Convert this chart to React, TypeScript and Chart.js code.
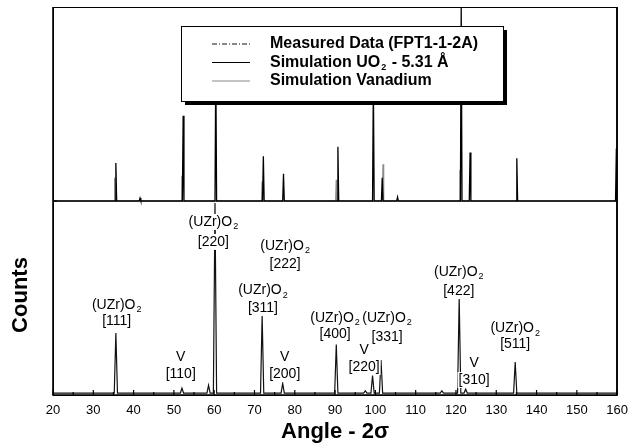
import { useEffect, useRef } from "react";
import { Chart, registerables } from "chart.js";

Chart.register(...registerables);

// ---- axis ----
const angleMin = 20;
const angleMax = 160;
const angleTickLabels = [20, 30, 40, 50, 60, 70, 80, 90, 100, 110, 120, 130, 140, 150, 160];
const countsMin = 0;
const countsMax = 200;

// ---- measured pattern (lower trace) ----
const measuredBase = 1;
const measuredAngles = [35.6, 52.0, 58.6, 60.2, 71.9, 77.0, 90.3, 97.5, 99.3, 101.4, 116.5, 120.8, 122.4, 134.7];
const measuredHeights = [31, 2.5, 4, 98, 40, 5, 25, 1.2, 9, 17, 1.2, 49, 2, 16];

// ---- simulated patterns (upper trace, offset) ----
const simulationBase = 100;
const uo2Angles = [35.6, 41.6, 52.3, 60.4, 72.2, 77.2, 90.7, 99.5, 101.7, 105.5, 121.3, 123.5, 135.1, 159.8];
const uo2Heights = [19.6, 1.5, 44, 70, 23, 14, 28, 60, 12, 2, 100, 25, 22, 27];
const vanadiumAngles = [35.3, 52.0, 71.9, 90.3, 101.9, 121.0];
const vanadiumHeights = [12, 13, 10, 11, 19, 16];

// ---- peak annotations ----
const labelPhase = ["(UZr)O", "V", "(UZr)O", "(UZr)O", "(UZr)O", "V", "(UZr)O", "(UZr)O", "V", "(UZr)O", "V", "(UZr)O"];
const labelHkl = ["[111]", "[110]", "[220]", "[222]", "[311]", "[200]", "[400]", "[331]", "[220]", "[422]", "[310]", "[511]"];
const labelAngles = [35.8, 51.7, 59.8, 77.6, 72.1, 77.5, 90.0, 102.9, 97.2, 120.7, 124.5, 134.7];
const labelUpper = [46.4, 19.6, 89.2, 76.8, 54.1, 19.6, 39.7, 39.7, 23.2, 63.4, 16.5, 34.5];
const labelLower = [38.1, 10.8, 78.9, 67.5, 44.8, 10.8, 31.4, 29.9, 14.4, 53.6, 7.7, 26.3];

// ---- legend ----
const legendNames = ["Measured Data (FPT1-1-2A)", "Simulation UO", "Simulation Vanadium"];

const FONT = "'Liberation Sans', Arial, sans-serif";

function spikeTrace(angles: number[], heights: number[], base: number, halfWidth: number) {
  const idx = angles.map((_, i) => i).sort((a, b) => angles[a] - angles[b]);
  const pts: { x: number; y: number }[] = [{ x: angleMin, y: base }];
  for (const i of idx) {
    pts.push({ x: angles[i] - halfWidth, y: base });
    pts.push({ x: angles[i], y: base + heights[i] });
    pts.push({ x: angles[i] + halfWidth, y: base });
  }
  pts.push({ x: angleMax, y: base });
  return pts;
}

function drawLabelLine(ctx: CanvasRenderingContext2D, text: string, sub: string, cx: number, cy: number) {
  ctx.font = `14px ${FONT}`;
  const w1 = ctx.measureText(text).width;
  ctx.font = `9px ${FONT}`;
  const w2 = sub ? ctx.measureText(sub).width + 1 : 0;
  const total = w1 + w2;
  const left = cx - total / 2;
  ctx.fillStyle = "#ffffff";
  ctx.fillRect(left - 1, cy - 8, total + 2, 16);
  ctx.fillStyle = "#000000";
  ctx.textAlign = "left";
  ctx.textBaseline = "middle";
  ctx.font = `14px ${FONT}`;
  ctx.fillText(text, left, cy);
  if (sub) {
    ctx.font = `9px ${FONT}`;
    ctx.fillText(sub, left + w1 + 1, cy + 5);
  }
}

const decorPlugin = {
  id: "decor",
  afterDatasetsDraw(chart: any) {
    const ctx: CanvasRenderingContext2D = chart.ctx;
    const xs = chart.scales.x;
    const ys = chart.scales.y;
    const a = chart.chartArea;
    ctx.save();

    // peak labels
    for (let i = 0; i < labelPhase.length; i++) {
      const cx = xs.getPixelForValue(labelAngles[i]);
      const isOxide = labelPhase[i] !== "V";
      drawLabelLine(ctx, labelPhase[i], isOxide ? "2" : "", cx, ys.getPixelForValue(labelUpper[i]));
      drawLabelLine(ctx, labelHkl[i], "", cx, ys.getPixelForValue(labelLower[i]));
    }

    // frame
    ctx.strokeStyle = "#000";
    ctx.lineWidth = 1;
    ctx.strokeRect(a.left + 0.5, a.top + 0.5, a.right - a.left - 1, a.bottom - a.top);
    ctx.lineWidth = 1.6;
    ctx.beginPath();
    ctx.moveTo(a.left, a.top);
    ctx.lineTo(a.left, a.bottom);
    ctx.lineTo(a.right, a.bottom);
    ctx.lineTo(a.right, a.top);
    ctx.stroke();

    // x ticks (inward)
    ctx.lineWidth = 1.2;
    ctx.beginPath();
    for (let v = angleMin; v <= angleMax; v += 5) {
      const px = xs.getPixelForValue(v);
      const len = v % 10 === 0 ? 5 : 3;
      ctx.moveTo(px, a.bottom);
      ctx.lineTo(px, a.bottom - len);
    }
    // y tick at trace offset
    const py = ys.getPixelForValue(simulationBase);
    ctx.moveTo(a.left, py);
    ctx.lineTo(a.left + 4, py);
    ctx.stroke();

    // legend box
    const bx = a.left + 128;
    const by = a.top + 19;
    const bw = 322;
    const bh = 75;
    ctx.fillStyle = "#000";
    ctx.fillRect(bx + 4, by + 4, bw, bh);
    ctx.fillStyle = "#fff";
    ctx.fillRect(bx, by, bw, bh);
    ctx.lineWidth = 1;
    ctx.strokeRect(bx + 0.5, by + 0.5, bw, bh);

    const rows = [by + 18, by + 36.5, by + 55];
    const styles = [
      { color: "#111", dash: [5, 2, 1, 2] },
      { color: "#000", dash: [] as number[] },
      { color: "#8a8a8a", dash: [] as number[] },
    ];
    for (let i = 0; i < 3; i++) {
      ctx.beginPath();
      ctx.setLineDash(styles[i].dash);
      ctx.strokeStyle = styles[i].color;
      ctx.lineWidth = 1.2;
      ctx.moveTo(bx + 31, rows[i]);
      ctx.lineTo(bx + 69, rows[i]);
      ctx.stroke();
    }
    ctx.setLineDash([]);
    ctx.fillStyle = "#000";
    ctx.textAlign = "left";
    ctx.textBaseline = "middle";
    const tx = bx + 89;
    ctx.font = `bold 16px ${FONT}`;
    ctx.fillText(legendNames[0], tx, rows[0]);
    ctx.fillText(legendNames[1], tx, rows[1]);
    const w = ctx.measureText(legendNames[1]).width;
    ctx.font = `bold 9px ${FONT}`;
    ctx.fillText("2", tx + w + 1, rows[1] + 5);
    const w2 = ctx.measureText("2").width;
    ctx.font = `bold 16px ${FONT}`;
    ctx.fillText(" - 5.31 Å", tx + w + w2 + 2, rows[1]);
    ctx.fillText(legendNames[2], tx, rows[2]);

    // y-axis title
    ctx.save();
    ctx.translate(a.left - 32, ys.getPixelForValue(simulationBase / 2) - 3);
    ctx.rotate(-Math.PI / 2);
    ctx.textAlign = "center";
    ctx.textBaseline = "middle";
    ctx.font = `bold 22px ${FONT}`;
    ctx.fillText("Counts", 0, 0);
    ctx.restore();

    ctx.restore();
  },
};

export default function App() {
  const ref = useRef<HTMLCanvasElement | null>(null);

  useEffect(() => {
    document.body.style.margin = "0";
    const canvas = ref.current;
    if (!canvas) return;
    const chart = new Chart(canvas, {
      type: "scatter",
      data: {
        datasets: [
          {
            label: legendNames[0],
            data: spikeTrace(measuredAngles, measuredHeights, measuredBase, 0.4),
            showLine: true,
            borderColor: "#111",
            borderWidth: 1.2,
            pointRadius: 0,
            tension: 0,
          },
          {
            label: "Simulation UO2 - 5.31 Å",
            data: spikeTrace(uo2Angles, uo2Heights, simulationBase, 0.2),
            showLine: true,
            borderColor: "#000",
            borderWidth: 1.3,
            pointRadius: 0,
            tension: 0,
          },
          {
            label: legendNames[2],
            data: spikeTrace(vanadiumAngles, vanadiumHeights, simulationBase, 0.15),
            showLine: true,
            borderColor: "#8a8a8a",
            borderWidth: 1.3,
            pointRadius: 0,
            tension: 0,
          },
        ],
      },
      options: {
        animation: false,
        responsive: false,
        devicePixelRatio: 1,
        layout: { padding: { top: 7, right: 13, left: 0, bottom: 0 } },
        plugins: {
          legend: { display: false },
          tooltip: { enabled: false },
        },
        scales: {
          x: {
            type: "linear",
            min: angleMin,
            max: angleMax,
            afterFit: (s: any) => {
              s.height = 53;
            },
            afterBuildTicks: (s: any) => {
              s.ticks = angleTickLabels.map((v) => ({ value: v }));
            },
            grid: { display: false, drawTicks: false },
            border: { display: false },
            ticks: {
              padding: 8,
              color: "#000",
              font: { family: FONT, size: 13 },
              maxRotation: 0,
            },
            title: {
              display: true,
              text: "Angle - 2σ",
              color: "#000",
              font: { family: FONT, size: 22, weight: "bold" },
              padding: { top: 0, bottom: 3 },
            },
          },
          y: {
            type: "linear",
            min: countsMin,
            max: countsMax,
            afterFit: (s: any) => {
              s.width = 53;
            },
            grid: { display: false, drawTicks: false },
            border: { display: false },
            ticks: { display: false },
          },
        },
      },
      plugins: [decorPlugin],
    } as any);
    return () => chart.destroy();
  }, []);

  return (
    <div style={{ width: 636, height: 448 }}>
      <canvas ref={ref} width={636} height={448} style={{ width: 636, height: 448, display: "block" }} />
    </div>
  );
}
